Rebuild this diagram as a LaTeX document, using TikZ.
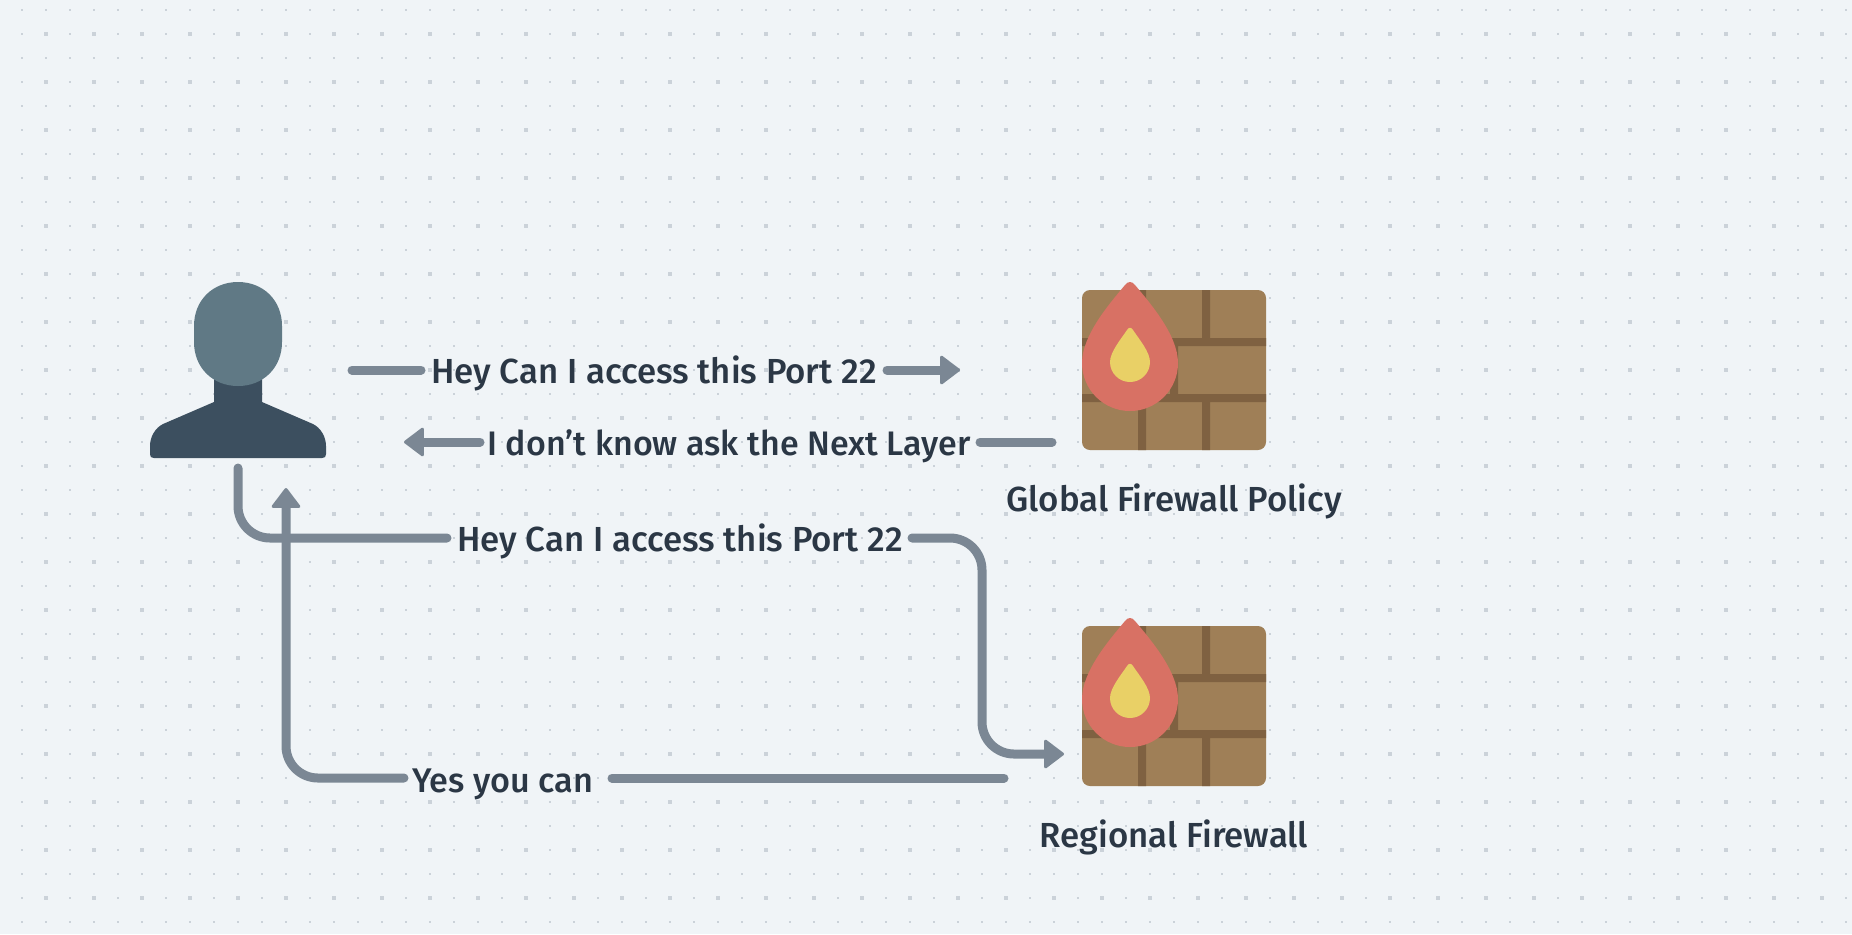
\documentclass[tikz,border=0pt]{standalone}
\usepackage{fontspec}
\setmainfont{Fira Sans Medium}
\usetikzlibrary{arrows.meta}
\definecolor{bgc}{HTML}{F0F4F7}
\definecolor{dotc}{HTML}{CBD2D9}
\definecolor{conc}{HTML}{7B8794}
\definecolor{txtc}{HTML}{2B3745}
\definecolor{headc}{HTML}{607985}
\definecolor{bodyc}{HTML}{3C4F5F}
\definecolor{brick}{HTML}{9F7F57}
\definecolor{mortar}{HTML}{7F6141}
\definecolor{flame}{HTML}{D87164}
\definecolor{core}{HTML}{E9D066}
\tikzset{
  x=0.5pt,y=-0.5pt,
  conn/.style={draw=conc,line width=4.5pt,line cap=round,line join=round},
  tip/.style={-{Triangle[length=10.5pt,width=15.5pt,round,line width=1.5pt]}},
  lbl/.style={font=\fontsize{17.4pt}{20pt}\selectfont,text=txtc,inner sep=0pt,anchor=base},
  fw/.pic={
    \fill[brick,rounded corners=4pt] (1082,290) rectangle (1266,450);
    \fill[mortar] (1082,338) rectangle (1266,346) (1082,394) rectangle (1266,402)
      (1138,290) rectangle (1146,338) (1202,290) rectangle (1210,338)
      (1138,402) rectangle (1146,450) (1202,402) rectangle (1210,450)
      (1170,346) rectangle (1178,394);
    \fill[flame] (1125,285) .. controls (1128,281) and (1132,281) .. (1135,285)
      .. controls (1150,303) and (1178,335) .. (1178,363)
      arc[start angle=0,end angle=-180,x radius=48,y radius=-48]
      .. controls (1082,335) and (1110,303) .. (1125,285) -- cycle;
    \fill[core] (1127,330) .. controls (1129,327) and (1131,327) .. (1133,330)
      .. controls (1139,339) and (1150,352) .. (1150,362)
      arc[start angle=0,end angle=-180,x radius=20,y radius=-20]
      .. controls (1110,352) and (1121,339) .. (1127,330) -- cycle;
  }
}
\begin{document}
\begin{tikzpicture}
\useasboundingbox (0,0) rectangle (1852,934);
\fill[bgc] (0,0) rectangle (1852,934);
% dots
\foreach \i in {0,...,76}{\foreach \j in {0,...,38}{
  \pgfmathtruncatemacro{\px}{22+24*\i}\pgfmathtruncatemacro{\py}{10+24*\j}
  \fill[dotc] (\px-1.4,\py-1.4) rectangle (\px+1.4,\py+1.4);
}}
\foreach \i in {0,...,38}{\foreach \j in {0,...,19}{
  \pgfmathtruncatemacro{\px}{46+48*\i}\pgfmathtruncatemacro{\py}{34+48*\j}
  \fill[dotc] (\px-2.4,\py-2.4) rectangle (\px+2.4,\py+2.4);
}}
% person
\fill[bodyc] (214,370) -- (262,370) -- (262,402) -- (313,424)
  .. controls (321,428) and (326,437) .. (326,446) -- (326,454)
  .. controls (326,457) and (325,458) .. (322,458) -- (154,458)
  .. controls (151,458) and (150,457) .. (150,454) -- (150,446)
  .. controls (150,437) and (155,428) .. (163,424) -- (214,402) -- cycle;
\fill[headc] (194,326) .. controls (194,300) and (213,282) .. (238,282)
  .. controls (263,282) and (282,300) .. (282,326) -- (282,342)
  .. controls (282,368) and (263,386) .. (238,386)
  .. controls (213,386) and (194,368) .. (194,342) -- cycle;
% firewalls
\pic at (0,0) {fw};
\pic at (0,336) {fw};
% labels
\node[lbl] (q1) at (654,383) {Hey Can I access this Port 22};
\node[lbl,font=\fontsize{17pt}{20pt}\selectfont] (a1) at (729,455) {I don’t know ask the Next Layer};
\node[lbl] (q2) at (680,551) {Hey Can I access this Port 22};
\node[lbl,font=\fontsize{17.1pt}{20pt}\selectfont] (a2) at (503,792) {Yes you can};
\node[lbl] (gl) at (1174,511) {Global Firewall Policy};
\node[lbl] (rg) at (1174,847) {Regional Firewall};
% connector ends
\coordinate (q1s) at (352,370);
\coordinate (q1e) at (421,370);
\coordinate (q1r) at (887,370);
\coordinate (q1t) at (960,370);
\coordinate (a1s) at (1052,442);
\coordinate (a1e) at (980,442);
\coordinate (a1r) at (480,442);
\coordinate (a1t) at (404,442);
\coordinate (q2s) at (238,468);
\coordinate (q2c) at (238,538);
\coordinate (q2e) at (447,538);
\coordinate (q2r) at (912,538);
\coordinate (q2c1) at (982,538);
\coordinate (q2c2) at (982,754);
\coordinate (q2t) at (1064,754);
\coordinate (a2s) at (1004,778);
\coordinate (a2e) at (612,778);
\coordinate (a2r) at (404,778);
\coordinate (a2c) at (286,778);
\coordinate (a2t) at (286,488);
% connectors
\draw[conn] (q1s) -- (q1e);
\draw[conn,tip] (q1r) -- (q1t);
\draw[conn] (a1s) -- (a1e);
\draw[conn,tip] (a1r) -- (a1t);
\draw[conn,rounded corners=16pt] (q2s) -- (q2c) -- (q2e);
\draw[conn,tip,rounded corners=16pt] (q2r) -- (q2c1) -- (q2c2) -- (q2t);
\draw[conn] (a2s) -- (a2e);
\draw[conn,tip,rounded corners=16pt] (a2r) -- (a2c) -- (a2t);
\end{tikzpicture}
\end{document}
